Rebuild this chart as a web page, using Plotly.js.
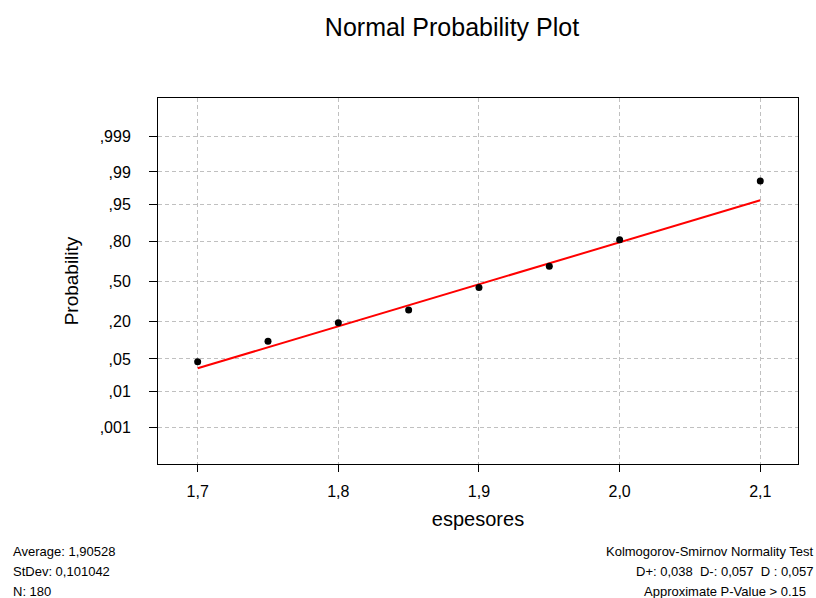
<!DOCTYPE html>
<html>
<head>
<meta charset="utf-8">
<script src="https://cdn.plot.ly/plotly-3.0.1.min.js"></script>
<style>
html,body{margin:0;padding:0;background:#fff;}
#chart{width:816px;height:598px;}
</style>
</head>
<body>
<div id="chart"></div>
<script>
// ---- data ----
const espesores = [1.70, 1.75, 1.80, 1.85, 1.90, 1.95, 2.00, 2.10];
const probabilidad = [0.0443, 0.102, 0.191, 0.2725, 0.449, 0.627, 0.813, 0.9836];
const lineX = [1.70, 2.10];
const lineProb = [0.0326, 0.9577];
const probTicks = [0.001, 0.01, 0.05, 0.20, 0.50, 0.80, 0.95, 0.99, 0.999];
const probTickText = [",001", ",01", ",05", ",20", ",50", ",80", ",95", ",99", ",999"];
const xTicks = [1.7, 1.8, 1.9, 2.0, 2.1];
const xTickText = ["1,7", "1,8", "1,9", "2,0", "2,1"];
const statsLeft = ["Average: 1,90528", "StDev: 0,101042", "N: 180"];
const statsRight = ["Kolmogorov-Smirnov Normality Test", "D+: 0,038  D-: 0,057  D : 0,057", "Approximate P-Value > 0.15"];

// inverse standard normal CDF (Acklam)
function normInv(p){
  const a=[-3.969683028665376e+01,2.209460984245205e+02,-2.759285104469687e+02,1.383577518672690e+02,-3.066479806614716e+01,2.506628277459239e+00];
  const b=[-5.447609879822406e+01,1.615858368580409e+02,-1.556989798598866e+02,6.680131188771972e+01,-1.328068155288572e+01];
  const c=[-7.784894002430293e-03,-3.223964580411365e-01,-2.400758277161838e+00,-2.549732539343734e+00,4.374664141464968e+00,2.938163982698783e+00];
  const d=[7.784695709041462e-03,3.224671290700398e-01,2.445134137142996e+00,3.754408661907416e+00];
  const pl=0.02425, ph=1-pl; let q,r;
  if(p<pl){q=Math.sqrt(-2*Math.log(p));return (((((c[0]*q+c[1])*q+c[2])*q+c[3])*q+c[4])*q+c[5])/((((d[0]*q+d[1])*q+d[2])*q+d[3])*q+1);}
  if(p<=ph){q=p-0.5;r=q*q;return (((((a[0]*r+a[1])*r+a[2])*r+a[3])*r+a[4])*r+a[5])*q/(((((b[0]*r+b[1])*r+b[2])*r+b[3])*r+b[4])*r+1);}
  q=Math.sqrt(-2*Math.log(1-p));return -(((((c[0]*q+c[1])*q+c[2])*q+c[3])*q+c[4])*q+c[5])/((((d[0]*q+d[1])*q+d[2])*q+d[3])*q+1);
}

const FONT = "Liberation Sans, Arial, sans-serif";

const traces = [
  {x: lineX, y: lineProb.map(normInv), mode: "lines", type: "scatter",
   line: {color: "#ff0000", width: 2}, hoverinfo: "skip", showlegend: false},
  {x: espesores, y: probabilidad.map(normInv), mode: "markers", type: "scatter",
   marker: {color: "#000000", size: 7}, showlegend: false}
];

const annotations = [];
const yPix = [551, 571, 591];
statsLeft.forEach((t,i)=>annotations.push({text:t, xref:"paper", yref:"paper",
  x: (11-158)/640, xanchor:"left", y: (464-yPix[i])/366, yanchor:"middle",
  showarrow:false, font:{family:FONT, size:13, color:"#000"}}));
const rightEdge = [815, 815, 808];
statsRight.forEach((t,i)=>annotations.push({text:t.replace(/  /g," &nbsp;"), xref:"paper", yref:"paper",
  x: (rightEdge[i]-158)/640, xanchor:"right", y: (464-yPix[i])/366, yanchor:"middle",
  showarrow:false, font:{family:FONT, size:13, color:"#000"}}));

const layout = {
  width: 816, height: 598,
  margin: {l:158, r:18, t:98, b:134},
  paper_bgcolor: "#fff", plot_bgcolor: "#fff",
  font: {family: FONT, color: "#000"},
  title: {text: "Normal Probability Plot", font: {family: FONT, size: 25, color: "#000"},
          xref: "container", x: 452/816, xanchor: "center",
          yref: "container", y: 1 - 27/598, yanchor: "middle"},
  xaxis: {range: [1.6718, 2.1268], tickvals: xTicks, ticktext: xTickText,
          ticks: "outside", ticklen: 7, tickcolor: "#000", tickwidth: 1,
          tickfont: {family: FONT, size: 16, color: "#000"}, ticklabelstandoff: 6,
          showline: true, linecolor: "#000", linewidth: 1, mirror: true,
          showgrid: true, gridcolor: "#c0c0c0", gridwidth: 1, griddash: "4px,3px",
          zeroline: false,
          title: {text: "espesores", font: {family: FONT, size: 20, color: "#000"}, standoff: 12}},
  yaxis: {range: [-3.876, 3.898], tickvals: probTicks.map(normInv), ticktext: probTickText,
          ticks: "outside", ticklen: 8, tickcolor: "#000", tickwidth: 1,
          tickfont: {family: FONT, size: 16, color: "#000"}, ticklabelstandoff: 15,
          showline: true, linecolor: "#000", linewidth: 1, mirror: true,
          showgrid: true, gridcolor: "#c0c0c0", gridwidth: 1, griddash: "4px,3px",
          zeroline: false,
          title: {text: "Probability", font: {family: FONT, size: 19, color: "#000"}, standoff: 16}},
  annotations: annotations
};

Plotly.newPlot("chart", traces, layout, {displayModeBar: false, staticPlot: true});
</script>
</body>
</html>
